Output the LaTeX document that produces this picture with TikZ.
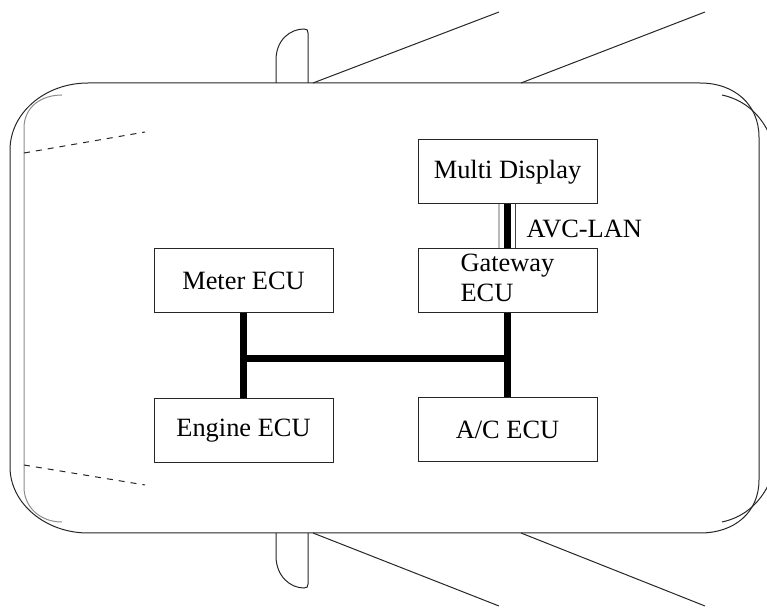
\documentclass[tikz,border=0pt]{standalone}
\usepackage{fontspec}
\setmainfont{Liberation Serif}
\usepackage{tikz}
\usetikzlibrary{positioning,calc}

\begin{document}
\begin{tikzpicture}[x=0.5pt,y=-0.5pt,font=\fontsize{13.2}{15}\selectfont,box/.style={draw=black!85,line width=0.5pt,minimum width=89.5pt,minimum height=32pt,inner sep=0pt,align=center},bus/.style={line width=3.5pt},body/.style={line width=0.5pt,black!85}]
\useasboundingbox (0,0) rectangle (767,609);
% car body
\draw[body] (88,83) -- (700,83) .. controls (735,83) and (759,105) .. (759,137) -- (759,480) .. controls (759,512) and (735,533) .. (700,533) -- (88,533) .. controls (45,533) and (10,503) .. (10,467) -- (10,150) .. controls (10,113) and (45,83) .. (88,83) -- cycle;
\draw[body,black!45] (62,95) .. controls (40,95) and (24,108) .. (24,128) -- (24,487) .. controls (24,507) and (40,522) .. (62,522);
\draw[body] (722,95) .. controls (745,100) and (762,115) .. (772,140);
\draw[body] (722,522) .. controls (745,517) and (762,502) .. (772,477);
\draw[body,dashed] (24,153) -- (145,132);
\draw[body,dashed] (24,465) -- (145,485);
% mirrors
\draw[body] (276,83) -- (276,60) .. controls (276,40) and (290,29) .. (304,29) .. controls (307,29) and (308,30) .. (308,33) -- (308,83);
\draw[body] (276,533) -- (276,556) .. controls (276,576) and (290,588) .. (304,588) .. controls (307,588) and (308,587) .. (308,584) -- (308,533);
% windows
\draw[body] (313,83) -- (499,12);\draw[body] (521,83) -- (705,12);
\draw[body] (313,533) -- (499,606);\draw[body] (521,533) -- (705,606);
% ECUs
\node[box] (meter) at (243.5,281) {Meter ECU};
\node[box,below=42.5pt of meter] (engine) {Engine ECU};
\node[box,right=42pt of meter] (gateway) {\begin{tabular}{@{}l@{}}Gateway\\ECU\end{tabular}};
\node[box,above=22pt of gateway] (multi) {Multi Display};
\node[box,below=42pt of gateway] (ac) {A/C ECU};
% body bus
\coordinate (tee) at ($(meter.south)!0.53!(engine.north)$);
\draw[bus] (meter.south) -- (engine.north);
\draw[bus] (gateway.south) -- (ac.north);
\draw[bus] (tee) -- (tee -| gateway.south);
% AVC-LAN
\coordinate (lanmid) at ($(multi.south)!0.5!(gateway.north)$);
\draw[bus] (multi.south) -- (gateway.north);
\draw[gray!55,line width=1pt] ([xshift=-4.5pt]multi.south) -- ([xshift=-4.5pt]gateway.north);
\draw[black!75,line width=0.5pt] ([xshift=4pt]multi.south) -- ([xshift=4pt]gateway.north);
\node[right=6pt of lanmid,yshift=-1pt] (avclabel) {AVC-LAN};
\end{tikzpicture}
\end{document}
